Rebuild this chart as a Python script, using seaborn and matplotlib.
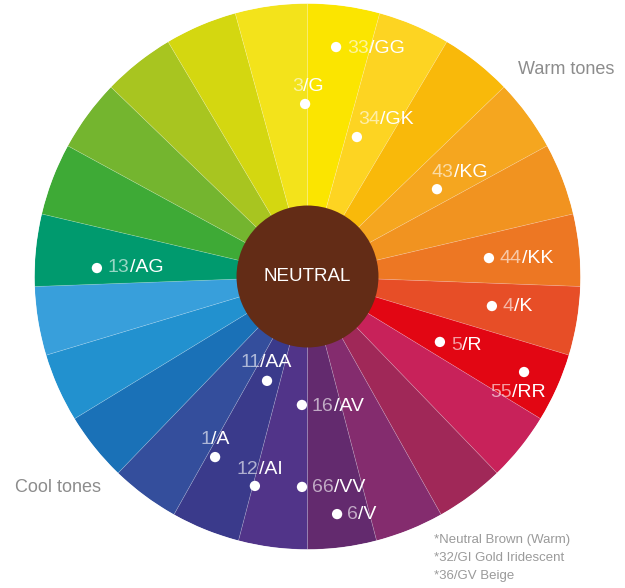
import numpy as np
import matplotlib
matplotlib.use('Agg')
import matplotlib.pyplot as plt
import seaborn as sns

# wheel segments, clockwise from 12 o'clock
segment_colors = ['#FBE500', '#FDD422', '#F9B90A', '#F5A61F', '#F19320', '#ED7723',
                  '#E74E27', '#E20613', '#C8225A', '#A02858', '#842C6E', '#632A6E',
                  '#513489', '#3A3A8B', '#344E9C', '#1A71B7', '#2291CF', '#389FDB',
                  '#009A6E', '#3EAA36', '#74B52F', '#A8C520', '#D4D710', '#F3E31B']
neutral_color = '#632C16'

# colour codes: number part, letter part, angle (deg, clockwise from top), radius (0-1)
code_numbers = ['33', '3', '34', '43', '44', '4', '5', '55', '13', '11', '16', '1', '12', '66', '6']
code_letters = ['GG', 'G', 'GK', 'KG', 'KK', 'K', 'R', 'RR', 'AG', 'AA', 'AV', 'A', 'AI', 'VV', 'V']
code_angles = [7.1, 359.2, 19.5, 56.0, 84.2, 99.1, 116.3, 113.8, 272.3, 201.2, 182.5, 207.1, 194.1, 181.5, 172.9]
code_radii = [0.847, 0.632, 0.542, 0.572, 0.668, 0.684, 0.541, 0.867, 0.772, 0.41, 0.471, 0.743, 0.791, 0.771, 0.877]

footnotes = ['*Neutral Brown (Warm)', '*32/GI Gold Iridescent', '*36/GV Beige']

# label offsets from the dot, in pixels (right, up)
label_offsets = [(11, -1), (-13, 17), (1, 18), (-5, 17), (11, 0), (11, 0), (11, -4), (-34, -20),
                 (11, 1), (-27, 18), (10, -2), (-15, 18), (-18, 16), (10, -1), (10, 0)]

sns.set_theme(style='white')
plt.rcParams['font.family'] = ['Liberation Sans', 'DejaVu Sans']

W, H = 625, 588
fig = plt.figure(figsize=(W / 100, H / 100), dpi=100)
cx, cy, R = 307.5, 276.5, 273
ax = fig.add_axes([(cx - R) / W, (H - cy - R) / H, 2 * R / W, 2 * R / H], projection='polar')
ax.set_theta_zero_location('N')
ax.set_theta_direction(-1)

# the wheel split is tilted a little, so upper and lower segments differ slightly
tilt = 2.1
w_up = (180 + 2 * tilt) / 12
w_lo = (180 - 2 * tilt) / 12
widths = np.array([w_up] * 6 + [w_lo] * 12 + [w_up] * 6)
lefts = np.concatenate([[0], np.cumsum(widths)[:-1]])

ax.bar(np.deg2rad(lefts), 1.0, width=np.deg2rad(widths), bottom=0, align='edge',
       color=segment_colors, edgecolor=(1, 1, 1, 0.2), linewidth=0.5, zorder=1)
ax.bar(0, 0.26, width=2 * np.pi, bottom=0, color=neutral_color, edgecolor='none', zorder=2)
ax.text(0, 0, 'NEUTRAL', ha='center', va='center', color='white', fontsize=13.5, zorder=3)

theta = np.deg2rad(code_angles)
sns.scatterplot(x=theta, y=code_radii, ax=ax, s=55, color='white', edgecolor='none',
                legend=False, zorder=4)

px2pt = 0.72
for num, let, th, r, (ox, oy) in zip(code_numbers, code_letters, theta, code_radii, label_offsets):
    t1 = ax.annotate(num, xy=(th, r), xytext=(ox * px2pt, oy * px2pt), textcoords='offset points',
                     ha='left', va='center', color=(1, 1, 1, 0.6), fontsize=14, zorder=5,
                     annotation_clip=False)
    ax.annotate('/' + let, xy=(1, 0.5), xycoords=t1, ha='left', va='center',
                color='white', fontsize=14, zorder=5, annotation_clip=False)

ax.set_ylim(0, 1)
ax.set_axis_off()

fig.text(518 / W, 1 - 69 / H, 'Warm tones', ha='left', va='center', color='#8C8C8C', fontsize=13)
fig.text(15 / W, 1 - 487 / H, 'Cool tones', ha='left', va='center', color='#8C8C8C', fontsize=13)
for i, line in enumerate(footnotes):
    fig.text(434 / W, 1 - (540 + 18 * i) / H, line, ha='left', va='center',
             color='#9A9A9A', fontsize=9.5)

fig.savefig('out.png', dpi=100)
